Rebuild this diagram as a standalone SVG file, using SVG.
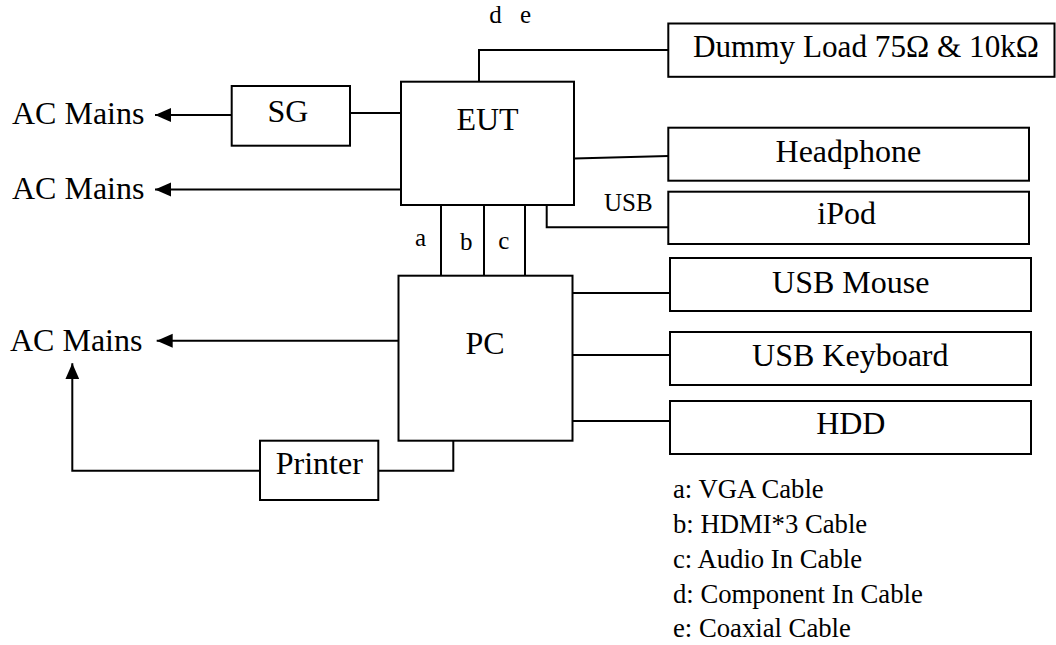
<svg xmlns="http://www.w3.org/2000/svg" width="1056" height="645" viewBox="0 0 1056 645">
<style>
.box{fill:#fff;stroke:#000;stroke-width:2}
.ln{fill:none;stroke:#000;stroke-width:2}
text{font-family:"Liberation Serif","Times New Roman",serif;fill:#000}
.big{font-size:32px}
.mid{text-anchor:middle}
.sm{font-size:25px}
.lg{font-size:26.7px}
</style>
<defs>
<marker id="ah" markerUnits="userSpaceOnUse" markerWidth="17" markerHeight="15" refX="16" refY="7" orient="auto" viewBox="0 0 17 15">
<path d="M0,0 L16,7 L0,14 z" fill="#000"/>
</marker>
</defs>
<rect width="1056" height="645" fill="#fff"/>
<g id="connectors">
<line class="ln" x1="231.7" y1="115" x2="155" y2="115" marker-end="url(#ah)"/>
<line class="ln" x1="350" y1="113" x2="401" y2="113"/>
<line class="ln" x1="401" y1="189.5" x2="155" y2="189.5" marker-end="url(#ah)"/>
<line class="ln" x1="398.5" y1="340.7" x2="156.7" y2="340.7" marker-end="url(#ah)"/>
<path class="ln" d="M260,470.7 H72.3 V363.3" marker-end="url(#ah)"/>
<path class="ln" d="M378.3,470.7 H453.3 V440.7"/>
<path class="ln" d="M479,81.7 V50 H668.3"/>
<line class="ln" x1="574" y1="158.5" x2="668.3" y2="156"/>
<path class="ln" d="M546.7,205 V227.3 H668.3"/>
<line class="ln" x1="441" y1="205" x2="441" y2="275.7"/>
<line class="ln" x1="484" y1="205" x2="484" y2="275.7"/>
<line class="ln" x1="525" y1="205" x2="525" y2="275.7"/>
<line class="ln" x1="572.5" y1="293" x2="670" y2="293"/>
<line class="ln" x1="572.5" y1="355" x2="670" y2="355"/>
<line class="ln" x1="572.5" y1="421" x2="670" y2="421"/>
<text class="sm" x="604" y="210.7">USB</text>
<text class="sm" x="415" y="246">a</text>
<text class="sm" x="460" y="250">b</text>
<text class="sm" x="498.3" y="249.3">c</text>
<text class="sm" y="23.3"><tspan x="489.3">d</tspan><tspan x="520">e</tspan></text>
</g>
<g id="ac1"><text class="big" x="12" y="124.3">AC Mains</text></g>
<g id="ac2"><text class="big" x="12" y="199">AC Mains</text></g>
<g id="ac3"><text class="big" x="10" y="350.7">AC Mains</text></g>
<g id="sg"><rect class="box" x="231.7" y="86" width="118.3" height="59.7"/><text class="big mid" x="288" y="122.3">SG</text></g>
<g id="eut"><rect class="box" x="401" y="81.7" width="173" height="123.3"/><text class="big mid" x="487.5" y="129.7">EUT</text></g>
<g id="pc"><rect class="box" x="398.5" y="275.7" width="174" height="165"/><text class="big mid" x="485" y="354.3">PC</text></g>
<g id="printer"><rect class="box" x="260" y="440.7" width="118.3" height="59.3"/><text class="big mid" x="319.3" y="474">Printer</text></g>
<g id="dummy"><rect class="box" x="668.3" y="23.5" width="386.2" height="53.3"/><text class="big mid" x="866" y="57" style="font-size:31.2px">Dummy Load 75Ω &amp; 10kΩ</text></g>
<g id="headphone"><rect class="box" x="668.3" y="127.7" width="360.7" height="53"/><text class="big mid" x="848.4" y="161.7">Headphone</text></g>
<g id="ipod"><rect class="box" x="668.3" y="191.7" width="360.7" height="52.3"/><text class="big mid" x="846.7" y="224">iPod</text></g>
<g id="mouse"><rect class="box" x="670" y="258" width="361" height="53"/><text class="big mid" x="850.8" y="292.7">USB Mouse</text></g>
<g id="keyboard"><rect class="box" x="670" y="332" width="361" height="53"/><text class="big mid" x="850.3" y="365.5">USB Keyboard</text></g>
<g id="hdd"><rect class="box" x="670" y="401" width="361" height="53"/><text class="big mid" x="850.8" y="434.3">HDD</text></g>
<g id="legend">
<text class="lg" x="673" y="498.3">a: VGA Cable</text>
<text class="lg" x="673" y="533.3">b: HDMI*3 Cable</text>
<text class="lg" x="673" y="568.3">c: Audio In Cable</text>
<text class="lg" x="673" y="603.3">d: Component In Cable</text>
<text class="lg" x="673" y="636.7">e: Coaxial Cable</text>
</g>
</svg>
